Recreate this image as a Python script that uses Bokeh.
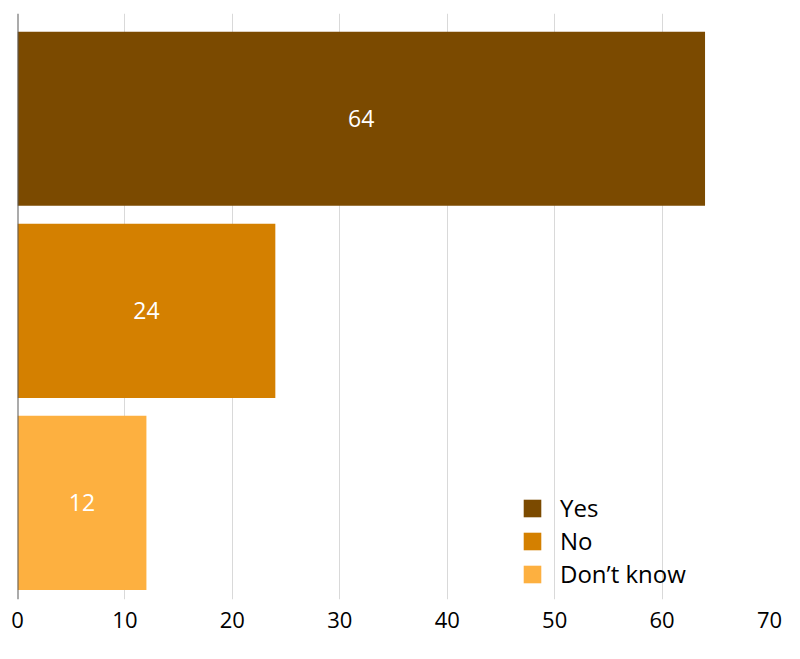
from bokeh.plotting import figure
from bokeh.models import ColumnDataSource, Range1d, Span, Legend, LegendItem, FixedTicker
from bokeh.core.properties import value
from bokeh.embed import file_html
from bokeh.resources import INLINE

categories = ["Yes", "No", "Don\u2019t know"]
values = [64, 24, 12]
colors = ["#7B4A00", "#D48000", "#FDB040"]
positions = [3, 2, 1]
x_ticks = [0, 10, 20, 30, 40, 50, 60, 70]

FONT = "Open Sans"

src = ColumnDataSource(dict(
    cat=categories, val=values, color=colors, pos=positions,
    mid=[v / 2 for v in values], lab=[str(v) for v in values],
))

p = figure(width=784, height=643, output_backend="svg", toolbar_location=None,
           x_range=Range1d(0, 70), y_range=Range1d(0.497, 3.548),
           min_border_left=17, min_border_right=15, min_border_top=13, min_border_bottom=44)
p.outline_line_color = None
p.background_fill_color = "white"
p.border_fill_color = "white"

r = p.hbar(y="pos", right="val", left=0, height=0.907, fill_color="color",
           line_color=None, source=src)

p.text(x="mid", y="pos", text="lab", source=src, text_color="white",
       text_font=value(FONT), text_font_size="23px", text_align="center",
       text_baseline="middle")

p.add_layout(Span(location=0, dimension="height", line_color="#595959", line_width=2))

p.yaxis.visible = False
p.ygrid.visible = False
p.xgrid.ticker = FixedTicker(ticks=x_ticks)
p.xgrid.grid_line_color = "#d9d9d9"
p.xgrid.grid_line_width = 1
p.xaxis.ticker = FixedTicker(ticks=x_ticks)
p.xaxis.axis_line_color = None
p.xaxis.major_tick_line_color = None
p.xaxis.minor_tick_line_color = None
p.xaxis.major_label_text_font = FONT
p.xaxis.major_label_text_font_size = "22px"
p.xaxis.major_label_text_color = "#000000"
p.xaxis.major_label_standoff = 6

items = [LegendItem(label=categories[i], renderers=[r], index=i) for i in range(3)]
legend = Legend(items=items, location=(504, 9), orientation="vertical",
                border_line_color=None, background_fill_alpha=0,
                label_text_font=FONT, label_text_font_size="24px",
                label_text_color="#000000",
                glyph_width=22, glyph_height=22, spacing=-3, padding=0, margin=0,
                label_standoff=17, label_height=22)
p.add_layout(legend, "center")

open("out.html", "w").write(file_html(p, INLINE))
